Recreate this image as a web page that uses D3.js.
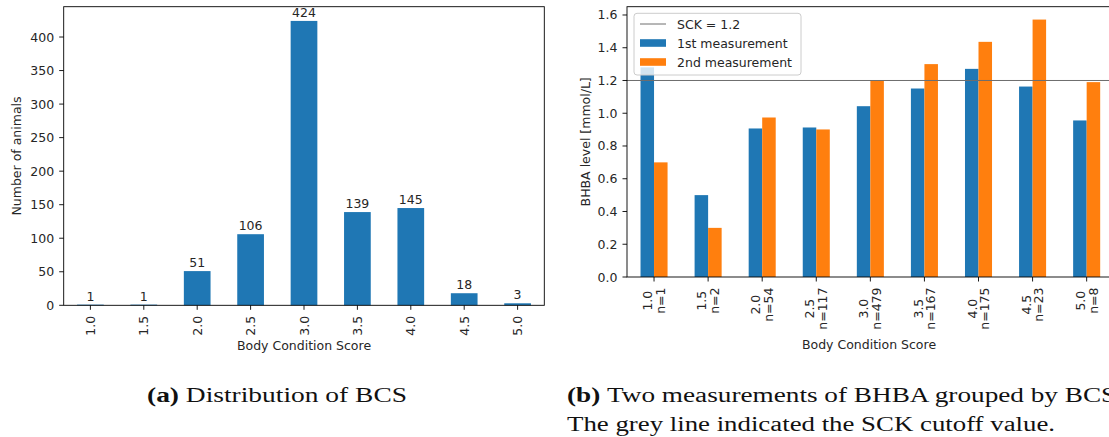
<!DOCTYPE html>
<html>
<head>
<meta charset="utf-8">
<script src="https://cdn.jsdelivr.net/npm/d3@7"></script>
<style>
  html, body { margin: 0; padding: 0; background: #fff; }
  svg { display: block; }
  .tick-label, .axis-title, .value-label, .legend-text { font-family: "DejaVu Sans", sans-serif; fill: #262626; }
  .caption { font-family: "Liberation Serif", "DejaVu Serif", serif; fill: #111; }
</style>
</head>
<body>
<svg id="fig" width="1109" height="437"></svg>
<script>
// Body condition score categories
const bcsLabels = ["1.0", "1.5", "2.0", "2.5", "3.0", "3.5", "4.0", "4.5", "5.0"];
// Number of animals per BCS
const animalCounts = [1, 1, 51, 106, 424, 139, 145, 18, 3];
// Animals measured for BHBA per BCS group
const groupSizes = [1, 2, 54, 117, 479, 167, 175, 23, 8];
// Mean BHBA level [mmol/L], first and second measurement
const bhbaFirst = [1.28, 0.50, 0.907, 0.913, 1.043, 1.151, 1.271, 1.163, 0.956];
const bhbaSecond = [0.70, 0.30, 0.974, 0.901, 1.198, 1.30, 1.436, 1.572, 1.19];
// Subclinical ketosis cutoff
const sckCutoff = 1.2;
// Tick values
const countTicks = [0, 50, 100, 150, 200, 250, 300, 350, 400];
const bhbaTicks = [0, 0.2, 0.4, 0.6, 0.8, 1.0, 1.2, 1.4, 1.6];

const BLUE = "#1f77b4", ORANGE = "#ff7f0e";
const FS = 12.5;
const svg = d3.select("#fig");
svg.append("rect").attr("width", 1109).attr("height", 437).attr("fill", "#fff");

const TICK = 4.5, PAD = 5;

function drawAxes(g, x, y, box, yTicks, yFmt, xLines) {
  // y ticks
  yTicks.forEach(t => {
    const yy = y(t);
    g.append("line").attr("x1", box.x0 - TICK).attr("x2", box.x0)
      .attr("y1", yy).attr("y2", yy).attr("stroke", "#000").attr("stroke-width", 0.9);
    g.append("text").attr("class", "tick-label")
      .attr("x", box.x0 - TICK - PAD).attr("y", yy).attr("dy", "0.36em")
      .attr("text-anchor", "end").attr("font-size", FS).text(yFmt(t));
  });
  // x ticks with rotated labels
  bcsLabels.forEach((c, i) => {
    const cx = x(c) + x.bandwidth() / 2;
    g.append("line").attr("x1", cx).attr("x2", cx)
      .attr("y1", box.y1).attr("y2", box.y1 + TICK).attr("stroke", "#000").attr("stroke-width", 0.9);
    const lines = xLines(i);
    const top = box.y1 + TICK + PAD + 1;
    const tmp = lines.map(s => {
      const t = g.append("text").attr("class", "tick-label").attr("font-size", FS).text(s);
      const w = t.node().getComputedTextLength();
      t.remove();
      return w;
    });
    const maxLen = d3.max(tmp);
    const lh = FS * 1.02;
    lines.forEach((s, k) => {
      const colX = cx + (k - (lines.length - 1) / 2) * lh;
      const cy = top + maxLen / 2;
      g.append("text").attr("class", "tick-label")
        .attr("transform", `translate(${colX},${cy}) rotate(-90)`)
        .attr("dy", "0.36em").attr("text-anchor", "middle")
        .attr("font-size", FS).text(s);
    });
  });
}

// ---------- Panel (a): distribution of BCS ----------
{
  const box = { x0: 63.7, x1: 544.3, y0: 6.7, y1: 305.3 };
  const g = svg.append("g");
  const x = d3.scaleBand().domain(bcsLabels).range([box.x0, box.x1])
    .paddingInner(0.5).paddingOuter(0.25);
  const y = d3.scaleLinear().domain([0, d3.max(animalCounts) * 1.05]).range([box.y1, box.y0]);

  g.selectAll("rect.bar").data(animalCounts).join("rect").attr("class", "bar")
    .attr("x", (d, i) => x(bcsLabels[i])).attr("width", x.bandwidth())
    .attr("y", d => y(d)).attr("height", d => y(0) - y(d)).attr("fill", BLUE);

  g.selectAll("text.value-label").data(animalCounts).join("text").attr("class", "value-label")
    .attr("x", (d, i) => x(bcsLabels[i]) + x.bandwidth() / 2)
    .attr("y", d => y(d) - 4).attr("text-anchor", "middle").attr("font-size", FS)
    .text(d => d);

  g.append("rect").attr("x", box.x0).attr("y", box.y0)
    .attr("width", box.x1 - box.x0).attr("height", box.y1 - box.y0)
    .attr("fill", "none").attr("stroke", "#000").attr("stroke-width", 0.9);

  drawAxes(g, x, y, box, countTicks, d => d, i => [bcsLabels[i]]);

  g.append("text").attr("class", "axis-title").attr("font-size", FS)
    .attr("x", (box.x0 + box.x1) / 2).attr("y", 350).attr("text-anchor", "middle")
    .text("Body Condition Score");
  g.append("text").attr("class", "axis-title").attr("font-size", FS)
    .attr("transform", `translate(16,${(box.y0 + box.y1) / 2}) rotate(-90)`)
    .attr("dy", "0.36em").attr("text-anchor", "middle").text("Number of animals");
}

// ---------- Panel (b): BHBA by BCS ----------
{
  const box = { x0: 627, x1: 1113.7, y0: 6.7, y1: 277 };
  const g = svg.append("g");
  const x = d3.scaleBand().domain(bcsLabels).range([box.x0, box.x1])
    .paddingInner(0.5).paddingOuter(0.25);
  const xs = d3.scaleBand().domain(["first", "second"]).range([0, x.bandwidth()]);
  const y = d3.scaleLinear().domain([0, d3.max(bhbaSecond.concat(bhbaFirst)) * 1.05])
    .range([box.y1, box.y0]);

  const series = [
    { key: "first", values: bhbaFirst, color: BLUE },
    { key: "second", values: bhbaSecond, color: ORANGE }
  ];
  series.forEach(s => {
    g.selectAll(null).data(s.values).join("rect")
      .attr("x", (d, i) => x(bcsLabels[i]) + xs(s.key)).attr("width", xs.bandwidth())
      .attr("y", d => y(d)).attr("height", d => y(0) - y(d)).attr("fill", s.color);
  });

  g.append("line").attr("x1", box.x0).attr("x2", box.x1)
    .attr("y1", y(sckCutoff)).attr("y2", y(sckCutoff))
    .attr("stroke", "#6e6e6e").attr("stroke-width", 1);

  g.append("rect").attr("x", box.x0).attr("y", box.y0)
    .attr("width", box.x1 - box.x0).attr("height", box.y1 - box.y0)
    .attr("fill", "none").attr("stroke", "#000").attr("stroke-width", 0.9);

  drawAxes(g, x, y, box, bhbaTicks, d3.format(".1f"),
    i => [bcsLabels[i], "n=" + groupSizes[i]]);

  g.append("text").attr("class", "axis-title").attr("font-size", FS)
    .attr("x", 869).attr("y", 349).attr("text-anchor", "middle")
    .text("Body Condition Score");
  g.append("text").attr("class", "axis-title").attr("font-size", FS)
    .attr("transform", `translate(585,${(box.y0 + box.y1) / 2}) rotate(-90)`)
    .attr("dy", "0.36em").attr("text-anchor", "middle").text("BHBA level [mmol/L]");

  // legend
  const lg = g.append("g");
  lg.append("rect").attr("x", 634).attr("y", 13.3).attr("width", 167).attr("height", 61.7)
    .attr("rx", 3).attr("fill", "#fff").attr("fill-opacity", 0.8)
    .attr("stroke", "#cccccc").attr("stroke-width", 1);
  const entries = [
    { label: "SCK = " + sckCutoff, type: "line", color: "#6e6e6e" },
    { label: "1st measurement", type: "patch", color: BLUE },
    { label: "2nd measurement", type: "patch", color: ORANGE }
  ];
  entries.forEach((e, k) => {
    const cy = 24 + k * 19;
    if (e.type === "line") {
      lg.append("line").attr("x1", 640).attr("x2", 666).attr("y1", cy).attr("y2", cy)
        .attr("stroke", e.color).attr("stroke-width", 1);
    } else {
      lg.append("rect").attr("x", 640).attr("y", cy - 3.8).attr("width", 26).attr("height", 7.6)
        .attr("fill", e.color);
    }
    lg.append("text").attr("class", "legend-text").attr("font-size", FS)
      .attr("x", 677).attr("y", cy).attr("dy", "0.36em").text(e.label);
  });
}

// ---------- Captions ----------
function caption(x, y, bold, rest) {
  const t = svg.append("text").attr("class", "caption").attr("x", x).attr("y", y)
    .attr("font-size", 20);
  if (bold) t.append("tspan").attr("font-weight", "bold").text(bold + " ");
  t.append("tspan").text(rest);
  const natural = t.node().getComputedTextLength();
  return { t, natural, fit: w => t.attr("textLength", w).attr("lengthAdjust", "spacingAndGlyphs") };
}
const capA = caption(147, 402, "(a)", "Distribution of BCS");
capA.fit(260);
const capB2 = caption(567, 431, null, "The grey line indicated the SCK cutoff value.");
const ratio = 488 / capB2.natural;
capB2.fit(488);
const capB1 = caption(567, 402, "(b)", "Two measurements of BHBA grouped by BCS.");
capB1.fit(capB1.natural * ratio * 1.015);
</script>
</body>
</html>
